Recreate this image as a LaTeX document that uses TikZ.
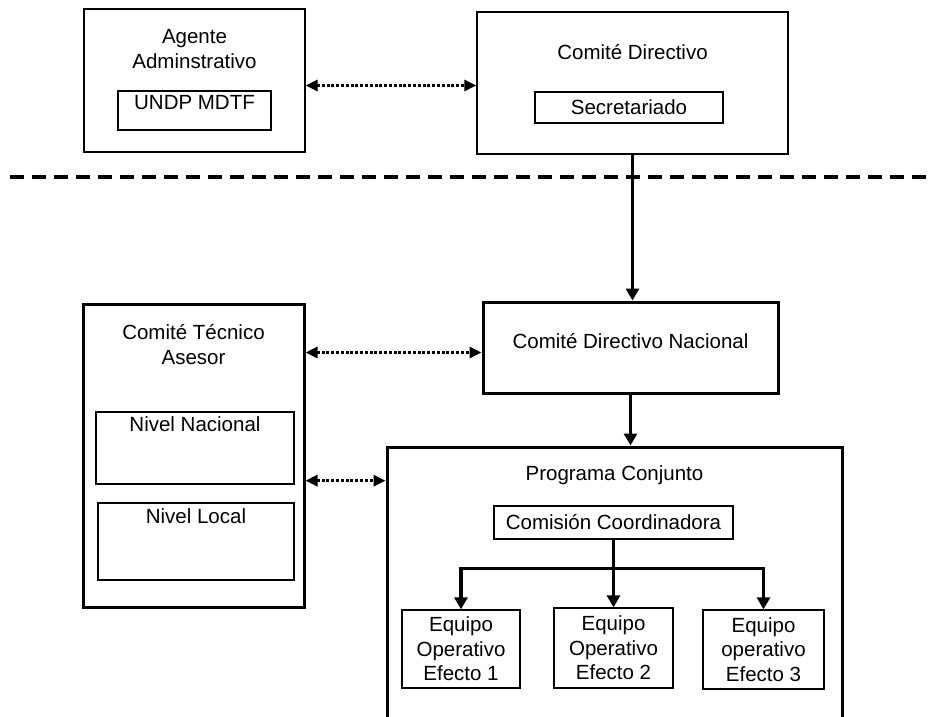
\documentclass[tikz,border=0pt]{standalone}
\usepackage{fontspec}
\setmainfont{Liberation Sans}
\usetikzlibrary{arrows.meta, positioning}

\tikzset{
  thinbox/.style={draw, line width=1.3pt, inner sep=0pt, align=center},
  thickbox/.style={draw, line width=3pt, inner sep=0pt, align=center},
  boxtext/.style={inner sep=0pt, align=center},
  link/.style={line width=3.5pt, -{Triangle[length=12pt, width=13pt]}},
  duallink/.style={line width=3pt, dash pattern=on 3pt off 1.8pt, {Triangle[length=12pt, width=11pt]}-{Triangle[length=12pt, width=11pt]}}
}

\begin{document}
\begin{tikzpicture}[x=1pt, y=-1pt, font=\fontsize{20.5}{24.5}\selectfont]

\useasboundingbox (0,0) rectangle (931,716);
\clip (0,0) rectangle (931,716);

% upper level
\node (agente) [thinbox, minimum width=221pt, minimum height=143pt] at (194.5, 80.5) {};
\node (agentetxt) [boxtext, below=21pt of agente.north] {Agente\\Adminstrativo};
\node (undp) [thinbox, minimum width=153pt, minimum height=39pt] at (194.5, 110.5) {};
\node (undptxt) [boxtext, below=5pt of undp.north] {UNDP MDTF};

\node (cd) [thinbox, minimum width=311pt, minimum height=142pt] at (632.5, 83) {};
\node (cdtxt) [boxtext, below=33pt of cd.north] {Comité Directivo};
\node (secre) [thinbox, minimum width=188pt, minimum height=31pt] at (629, 107.5) {Secretariado};

% separator
\draw[line width=3.5pt, dash pattern=on 14pt off 8pt] (10,177) -- (931,177);

% national level
\node (tec) [thickbox, minimum width=221pt, minimum height=303pt] at (193.5, 455.5) {};
\node (tectxt) [boxtext, below=22pt of tec.north] {Comité Técnico\\Asesor};
\node (nnac) [thinbox, minimum width=198pt, minimum height=72pt] at (195, 448) {};
\node (nnactxt) [boxtext, below=5pt of nnac.north] {Nivel Nacional};
\node (nloc) [thinbox, minimum width=196pt, minimum height=77pt] at (196, 541.5) {};
\node (nloctxt) [boxtext, below=6pt of nloc.north] {Nivel Local};

\node (cdn) [thickbox, minimum width=295pt, minimum height=91pt, text depth=13pt] at (630.5, 347.5) {Comité Directivo Nacional};

\node (pc) [thickbox, minimum width=455pt, minimum height=290pt] at (614.5, 592) {};
\node (pctxt) [boxtext, below=20pt of pc.north] {Programa Conjunto};
\node (cc) [thinbox, minimum width=239pt, minimum height=33pt] at (613.5, 522.5) {Comisión Coordinadora};

\node (e1) [thinbox, minimum width=118pt, minimum height=78pt] at (461, 649) {Equipo\\Operativo\\Efecto 1};
\node (e2) [thinbox, minimum width=119pt, minimum height=80pt] at (613.5, 648) {Equipo\\Operativo\\Efecto 2};
\node (e3) [thinbox, minimum width=121pt, minimum height=79pt] at (763.5, 649.5) {Equipo\\operativo\\Efecto 3};

% dotted links
\draw[duallink] ([yshift=-5pt]agente.east) -- ([yshift=-5pt]agente.east -| cd.west);
\draw[duallink] ([yshift=-5pt]tec.east |- cdn.west) -- ([yshift=-5pt]cdn.west);
\draw[duallink] ([yshift=4pt]tec.east |- nnac.south) -- ([yshift=4pt]pc.west |- nnac.south);

% solid links
\draw[link] (cd.south) -- (cd.south |- cdn.north);
\draw[link] (cdn.south) -- (cdn.south |- pc.north);

\coordinate (split) at ([yshift=-29pt]cc.south);
\draw[line width=3.5pt] (cc.south) -- (split);
\foreach \e in {e1,e2,e3} {
  \draw[link] (split) -| (\e.north);
}

\end{tikzpicture}
\end{document}
